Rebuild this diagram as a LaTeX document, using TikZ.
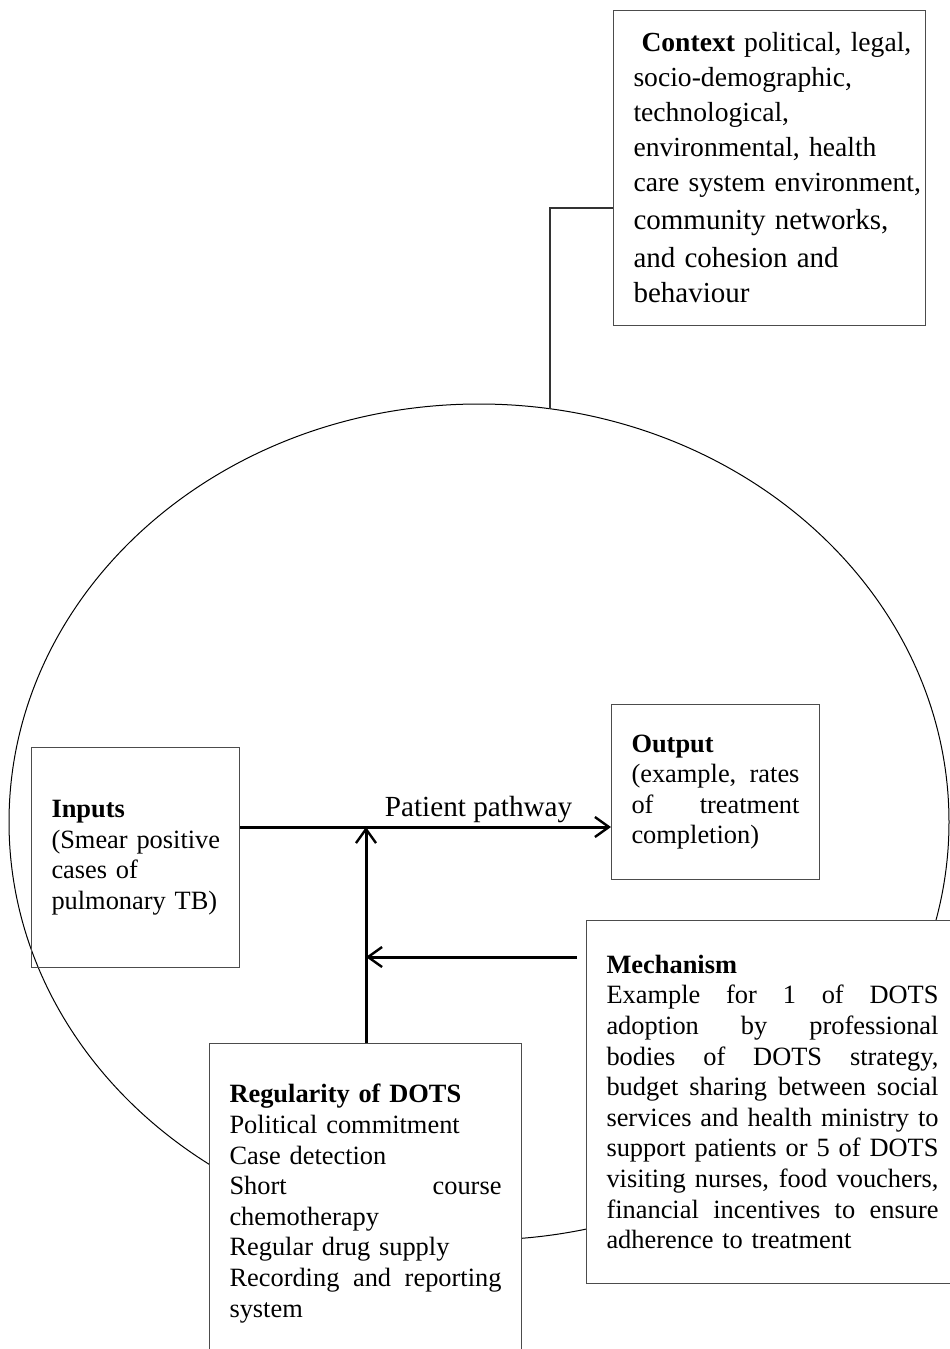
\documentclass[tikz,border=0pt]{standalone}
\usepackage{fontspec}
\setmainfont{Liberation Serif}
\usetikzlibrary{shapes.geometric, arrows.meta}

\newcommand{\jline}[1]{\makebox[\hsize][s]{\spaceskip=0pt\xspaceskip=0pt #1}}

\begin{document}
\hyphenpenalty=10000 \exhyphenpenalty=10000
\begin{tikzpicture}[x=0.5pt, y=-0.5pt,
    box/.style={draw=black!70, line width=0.5pt, anchor=north west, align=left,
        inner xsep=10pt, inner ysep=0pt, font=\fontsize{13.2}{15.3}\selectfont},
    flow/.style={line width=1.5pt, -{Straight Barb[length=7pt, width=10pt, line width=1.2pt]}}]
    \useasboundingbox (0,0) rectangle (949,1349);

    % Programme environment
    \node[draw, ellipse, line width=0.5pt, inner sep=0pt,
        minimum width=470pt, minimum height=418pt] (env) at (479,822) {};

    % Context
    \node[box, fill=white, text width=136pt, minimum height=157.5pt,
        font=\fontsize{13.8}{17.5}\selectfont] (ctx) at (613,10)
        {\hspace*{4pt}\textbf{Context}~political,~legal,\\
         socio-demographic,\\
         technological,\\
         environmental,~health\\
         care~system~environment,\par
         \fontsize{14.5}{19}\selectfont community~networks,\\
         and~cohesion~and\\
         behaviour};

    % Inputs and output
    \node[box, text width=84pt, minimum height=110pt] (inputs) at (31,747)
        {\textbf{Inputs}\\ (Smear~positive\\ cases~of\\ pulmonary~TB)};
    \node[box, fill=white, text width=84pt, minimum height=87.5pt] (output) at (611,704)
        {\textbf{Output}\\ \jline{(example, rates}\\ \jline{of treatment}\\ completion)};

    % Mechanism
    \node[box, fill=white, text width=166pt, minimum height=181.5pt] (mech) at (586,920)
        {\textbf{Mechanism}\\
         \jline{Example for 1 of DOTS}\\
         \jline{adoption by professional}\\
         \jline{bodies of DOTS strategy,}\\
         \jline{budget sharing between social}\\
         \jline{services and health ministry to}\\
         \jline{support patients or 5 of DOTS}\\
         \jline{visiting nurses, food vouchers,}\\
         \jline{financial incentives to ensure}\\
         adherence to treatment};

    % Regularity
    \node[box, fill=white, text width=136pt, minimum height=160pt] (reg) at (209,1043)
        {\textbf{Regularity~of~DOTS}\\
         Political~commitment\\
         Case~detection\\
         \jline{Short course}\\
         chemotherapy\\
         Regular~drug~supply\\
         \jline{Recording and reporting}\\
         system};

    \coordinate (junction) at (366,827);
    \coordinate (feedback) at (577,957);
    \coordinate (bend) at (550,208);

    % Arrows
    \draw[flow] (inputs.east |- junction) -- node[above, pos=0.643, inner sep=1.3pt,
        font=\fontsize{14.6}{17}\selectfont] (pathlbl) {Patient pathway} (output.west |- junction);
    \draw[flow] (junction |- reg.north) -- (junction);
    \draw[flow] (feedback) -- (junction |- feedback);

    % Context connector
    \draw[line width=0.75pt, draw=black!80] (ctx.west |- bend) -- (bend) -- (bend |- env.80);
\end{tikzpicture}
\end{document}
